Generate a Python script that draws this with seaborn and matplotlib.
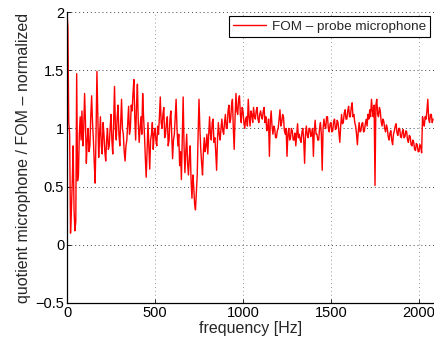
import numpy as np
import pandas as pd
import matplotlib
matplotlib.use("Agg")
import matplotlib.pyplot as plt
import seaborn as sns

# Frequency grid of the measured quotient (5 Hz resolution)
freq_step = 5

# Quotient microphone / FOM, normalized, one row per 100 Hz
quotient = [
    2.0, 1.87, 1.05, 0.95, 0.1, 0.3, 0.55, 0.85, 0.3, 0.12, 0.2, 1.47, 0.55, 0.6, 0.95, 1.1, 0.9, 1.15, 0.85, 1.0,
    1.3, 1.05, 0.7, 0.9, 1.0, 0.8, 0.85, 1.1, 1.28, 1.05, 0.9, 0.7, 0.53, 0.95, 1.49, 1.1, 0.75, 0.95, 1.1, 0.85,
    0.78, 1.05, 0.95, 0.8, 0.72, 0.9, 1.0, 0.82, 0.85, 1.0, 1.12, 0.9, 0.78, 1.05, 1.36, 1.0, 0.9, 1.1, 1.2, 0.95,
    0.85, 1.05, 1.25, 1.0, 0.95, 0.8, 0.72, 0.85, 0.9, 1.05, 1.19, 0.95, 1.0, 1.2, 1.15, 1.3, 1.42, 1.1, 0.9, 1.2,
    1.38, 1.05, 0.88, 1.0, 1.1, 0.95, 1.3, 1.1, 0.95, 0.75, 0.58, 0.8, 1.05, 0.85, 0.65, 0.9, 0.95, 1.05, 0.82, 0.95,
    1.0, 0.9, 0.85, 1.02, 0.95, 1.1, 1.27, 1.05, 1.0, 1.12, 1.18, 0.92, 0.95, 1.05, 1.1, 0.85, 0.9, 1.08, 1.15, 0.95,
    0.74, 0.9, 0.95, 1.1, 1.25, 1.0, 0.85, 0.95, 0.68, 0.8, 0.56, 0.9, 1.27, 0.85, 0.62, 0.8, 0.95, 0.7, 0.6, 0.75,
    0.85, 0.55, 0.4, 0.6, 0.5, 0.35, 0.3, 0.45, 0.6, 0.95, 1.25, 1.0, 0.82, 0.7, 0.6, 0.8, 0.92, 0.8, 0.85, 0.95,
    0.78, 0.95, 1.1, 0.95, 0.9, 1.05, 1.08, 0.88, 0.92, 0.8, 0.64, 0.9, 1.05, 0.95, 0.9, 1.0, 1.08, 0.98, 0.95, 1.05,
    1.12, 1.0, 1.0, 1.15, 1.2, 1.05, 1.08, 1.2, 1.25, 1.0, 0.82, 1.1, 1.3, 1.15, 1.12, 1.25, 1.28, 1.12, 1.05, 1.18,
    1.15, 1.05, 1.0, 1.08, 1.1, 1.02, 1.25, 1.1, 1.02, 1.15, 1.12, 1.05, 1.18, 1.1, 1.08, 1.15, 1.18, 1.08, 1.05, 1.12,
    1.15, 1.1, 1.08, 1.15, 1.18, 1.05, 1.1, 0.98, 1.0, 1.08, 0.76, 1.05, 1.15, 1.02, 0.95, 1.02, 1.0, 0.92, 0.92, 0.98,
    1.0, 1.08, 1.16, 1.02, 1.05, 1.12, 1.1, 0.98, 0.95, 1.0, 0.76, 0.95, 1.0, 0.9, 0.92, 1.0, 0.98, 0.9, 0.9, 0.96,
    0.85, 0.95, 1.04, 0.92, 0.95, 0.9, 0.88, 0.97, 1.0, 0.9, 0.7, 0.95, 1.02, 0.94, 0.92, 1.0, 1.0, 0.93, 0.95, 1.0,
    0.76, 0.98, 1.07, 0.95, 0.95, 0.9, 0.9, 1.0, 1.05, 0.95, 0.64, 1.0, 1.08, 1.02, 1.0, 1.1, 1.1, 1.0, 0.97, 1.04,
    1.05, 0.97, 0.98, 1.06, 1.08, 0.99, 1.0, 1.07, 1.05, 0.96, 0.88, 1.02, 1.12, 1.04, 1.05, 1.13, 1.16, 1.08, 1.08, 1.15,
    1.19, 1.1, 1.1, 1.18, 1.22, 1.1, 1.12, 1.05, 1.02, 0.95, 0.86, 0.98, 1.05, 0.97, 0.98, 1.04, 1.05, 0.97, 0.98, 1.04,
    1.08, 1.02, 1.12, 1.08, 1.16, 1.1, 1.25, 1.15, 1.1, 1.2, 0.51, 1.2, 1.25, 1.12, 1.1, 1.18, 1.15, 1.06, 1.02, 1.08,
    1.06, 1.0, 0.97, 1.03, 1.0, 0.93, 0.9, 0.96, 0.98, 0.9, 0.86, 0.95, 0.98, 1.02, 1.04, 0.96, 0.94, 1.0, 1.0, 0.93,
    0.92, 0.97, 0.99, 0.92, 0.93, 0.98, 0.97, 0.9, 0.88, 0.94, 0.93, 0.86, 0.85, 0.9, 0.88, 0.82, 0.81, 0.87, 0.86, 0.8,
    0.8, 0.86, 0.84, 0.79, 1.1, 1.05, 1.02, 1.1, 1.08, 1.15, 1.25, 1.08, 1.05, 1.12, 1.12, 1.05, 1.08,
]

x_ticks = [0, 500, 1000, 1500, 2000]
y_ticks = [-0.5, 0, 0.5, 1, 1.5, 2]
y_tick_labels = ["\u22120.5", "0", "0.5", "1", "1.5", "2"]
series_label = "FOM \u2013 probe microphone"

freq = np.arange(len(quotient)) * freq_step
df = pd.DataFrame({"frequency": freq, "quotient": quotient})

sns.set_style("white")
plt.rcParams["font.family"] = ["Liberation Sans", "DejaVu Sans"]

W, H = 434, 341
fig = plt.figure(figsize=(W / 100, H / 100), dpi=100)
left, right, top, bottom = 67, 434, 12, 303
ax = fig.add_axes([left / W, 1 - bottom / H, (right - left) / W, (bottom - top) / H])

sns.lineplot(data=df, x="frequency", y="quotient", ax=ax, color="#ff0000",
             linewidth=1.0, label=series_label)

ax.set_xlim(0, (right - left) / 0.176)
ax.set_ylim(-0.5, 2)
ax.set_xticks(x_ticks)
ax.set_xticklabels([str(t) for t in x_ticks])
ax.set_yticks(y_ticks)
ax.set_yticklabels(y_tick_labels)

ax.set_xlabel("frequency [Hz]", fontsize=11.5, labelpad=1)
ax.set_ylabel("quotient microphone / FOM \u2013 normalized", fontsize=11.5, labelpad=3)

ax.tick_params(axis="both", direction="in", length=3, width=0.6, labelsize=10.5,
               colors="black", pad=2)
ax.tick_params(axis="both", which="both", bottom=True, left=True)

for side in ("top", "right"):
    ax.spines[side].set_visible(False)
for side in ("left", "bottom"):
    ax.spines[side].set_color("black")
    ax.spines[side].set_linewidth(0.9)

ax.grid(True, axis="y", linestyle=(0, (1, 3)), color="#444444", linewidth=0.7)
ax.grid(True, axis="x", linestyle=(0, (1, 3)), color="#999999", linewidth=0.7)
ax.set_axisbelow(True)

leg = ax.legend(loc="upper right", fontsize=9.7, frameon=True, fancybox=False,
                framealpha=1, edgecolor="black", borderpad=0.3, handlelength=2.45,
                handletextpad=0.4, borderaxespad=0.3)
leg.get_frame().set_linewidth(0.8)

fig.savefig("out.png", dpi=100)
